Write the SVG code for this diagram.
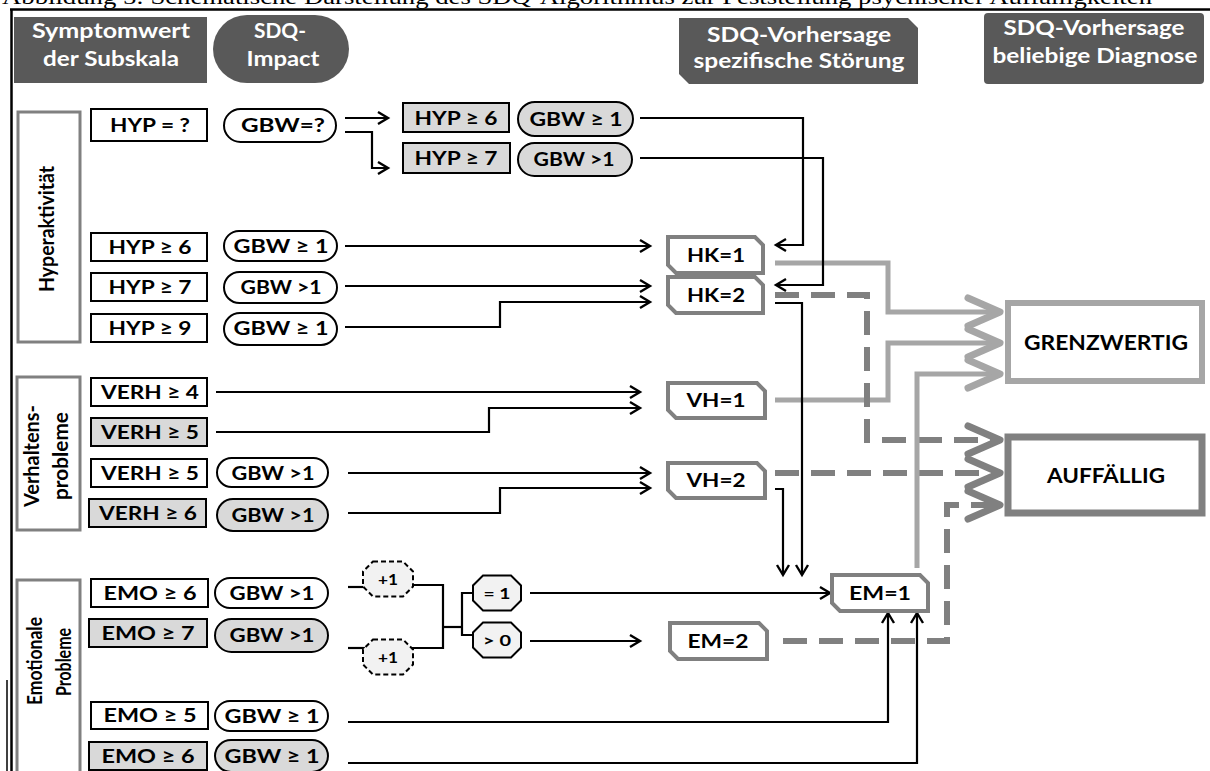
<svg xmlns="http://www.w3.org/2000/svg" width="1210" height="771" viewBox="0 0 1210 771">
<style>
text{font-family:Lato,"Liberation Sans",sans-serif;font-weight:bold;text-anchor:middle;fill:#000}
.h{fill:#fff;font-size:20px}
.n{font-size:18px}
.v{font-size:21px}
.w{fill:#fff;stroke:#000;stroke-width:2}
.g{fill:#d9d9d9;stroke:#000;stroke-width:2}
.cat{fill:#fff;stroke:#808080;stroke-width:3}
.st{fill:#fff;stroke:#808080;stroke-width:4}
.oct{fill:#f2f2f2;stroke:#000;stroke-width:2}
.octd{fill:#f2f2f2;stroke:#000;stroke-width:2;stroke-dasharray:5 3}
.k{fill:none;stroke:#000;stroke-width:2.2}
.ka{fill:none;stroke:#000;stroke-width:2.2;marker-end:url(#ab)}
.lg{fill:none;stroke:#a6a6a6;stroke-width:5;marker-end:url(#al)}
.dg{fill:none;stroke:#808080;stroke-width:6;stroke-dasharray:24 12;marker-end:url(#ad)}
</style>
<defs>
<marker id="ab" markerUnits="userSpaceOnUse" viewBox="-12 -8 14 16" refX="0" refY="0" markerWidth="14" markerHeight="16" orient="auto" overflow="visible">
<path d="M-10,-6 L0,0 L-10,6" fill="none" stroke="#000" stroke-width="2.4"/>
</marker>
<marker id="al" markerUnits="userSpaceOnUse" viewBox="-40 -20 44 40" refX="0" refY="0" markerWidth="44" markerHeight="40" orient="auto" overflow="visible">
<path d="M-32,-14 L0,0 L-32,14" fill="none" stroke="#a6a6a6" stroke-width="7" stroke-linecap="round" stroke-linejoin="round"/>
</marker>
<marker id="ad" markerUnits="userSpaceOnUse" viewBox="-40 -20 44 40" refX="0" refY="0" markerWidth="44" markerHeight="40" orient="auto" overflow="visible">
<path d="M-32,-14 L0,0 L-32,14" fill="none" stroke="#808080" stroke-width="7" stroke-linecap="round" stroke-linejoin="round"/>
</marker>
</defs>
<rect width="1210" height="771" fill="#fff"/>
<text x="2" y="4" style="font-family:'Liberation Serif',serif;font-weight:normal;text-anchor:start;font-size:22px" textLength="1150" lengthAdjust="spacingAndGlyphs">Abbildung 5: Schematische Darstellung des SDQ-Algorithmus zur Feststellung psychischer Auffälligkeiten</text>
<g id="frame" fill="none" stroke="#000">
<path d="M10,9.5 H1210" stroke-width="2.5"/>
<path d="M11.5,9 V771" stroke-width="2.5"/>
<path d="M7,680 V771" stroke-width="1.5"/>
</g>
<g id="header-symptom"><rect x="14" y="17" width="193" height="66" fill="#595959"/>
<text class="h" x="111" y="38" textLength="158" lengthAdjust="spacingAndGlyphs">Symptomwert</text>
<text class="h" x="111" y="66" textLength="136" lengthAdjust="spacingAndGlyphs">der Subskala</text></g>
<g id="header-impact"><rect x="213" y="15" width="136" height="68" rx="34" fill="#595959"/>
<text class="h" x="280" y="38" textLength="52" lengthAdjust="spacingAndGlyphs">SDQ-</text>
<text class="h" x="283" y="66" textLength="73" lengthAdjust="spacingAndGlyphs">Impact</text></g>
<g id="header-spez"><path d="M679,18 H908 L918,28 V84 H689 L679,74 Z" fill="#595959"/>
<text class="h" x="799" y="42" textLength="184" lengthAdjust="spacingAndGlyphs">SDQ-Vorhersage</text>
<text class="h" x="799" y="68" textLength="211" lengthAdjust="spacingAndGlyphs">spezifische Störung</text></g>
<g id="header-bel"><rect x="984" y="13" width="220" height="71" rx="4" fill="#595959"/>
<text class="h" x="1094" y="35" textLength="181" lengthAdjust="spacingAndGlyphs">SDQ-Vorhersage</text>
<text class="h" x="1095" y="63" textLength="205" lengthAdjust="spacingAndGlyphs">beliebige Diagnose</text></g>

<g id="cat-hyp"><rect class="cat" x="18" y="112" width="62" height="230"/>
<text class="v" transform="translate(54,229) rotate(-90)" textLength="126" lengthAdjust="spacingAndGlyphs">Hyperaktivität</text></g>
<g id="cat-verh"><rect class="cat" x="17" y="377" width="63" height="153"/>
<text class="v" transform="translate(39,456) rotate(-90)" textLength="102" lengthAdjust="spacingAndGlyphs">Verhaltens-</text>
<text class="v" transform="translate(68,456) rotate(-90)" textLength="88" lengthAdjust="spacingAndGlyphs">probleme</text></g>
<g id="cat-emo"><rect class="cat" x="17" y="580" width="63" height="200"/>
<text class="v" transform="translate(42,661) rotate(-90)" textLength="88" lengthAdjust="spacingAndGlyphs">Emotionale</text>
<text class="v" transform="translate(71,662) rotate(-90)" textLength="68" lengthAdjust="spacingAndGlyphs">Probleme</text></g>

<g id="connectors">
<path class="lg" d="M775,263 H888 V312 H1000"/>
<path class="lg" d="M775,400 H888 V343 H1000"/>
<path class="dg" d="M775,295 H867 V440 H1000"/>
<path class="dg" d="M775,473 H1000"/>
<path class="lg" d="M917,568 V374 H1000"/>
<path class="dg" d="M783,641 H947 V505 H1000"/>
<path class="ka" d="M345,118 H388"/>
<path class="ka" d="M345,132 H372 V168 H388"/>
<path class="ka" d="M640,118 H803 V245 H776"/>
<path class="ka" d="M640,158 H823 V285 H776"/>
<path class="ka" d="M345,246 H650"/>
<path class="ka" d="M345,286 H650"/>
<path class="ka" d="M345,327 H500 V302 H650"/>
<path class="ka" d="M216,392 H640"/>
<path class="ka" d="M216,432 H489 V408 H640"/>
<path class="ka" d="M348,473 H650"/>
<path class="ka" d="M348,513 H500 V488 H650"/>
<path class="ka" d="M775,303 H802 V575"/>
<path class="ka" d="M775,489 H783 V575"/>
<path class="k" d="M348,587 H365"/>
<path class="k" d="M348,648 H365"/>
<path class="k" d="M411,585 H443 V648 H411" stroke-width="2.8"/>
<path class="k" d="M443,627 H462" stroke-width="3"/>
<path class="k" d="M474,593 H462 V635 H474" stroke-width="3"/>
<path class="ka" d="M530,593 H830"/>
<path class="ka" d="M530,641 H640"/>
<path class="ka" d="M348,722 H888 V613"/>
<path class="ka" d="M348,763 H917 V613"/>
</g>

<g id="hyp-q"><rect class="w" x="91" y="109" width="116" height="32"/><text class="n" x="150" y="132" textLength="80" lengthAdjust="spacingAndGlyphs">HYP = ?</text></g>
<g id="gbw-q"><rect class="w" x="224" y="109" width="112" height="33" rx="16.5"/><text class="n" x="283" y="132" textLength="84" lengthAdjust="spacingAndGlyphs">GBW=?</text></g>
<g id="hyp6-g"><rect class="g" x="403" y="103" width="106" height="29"/><text class="n" x="456" y="124.5" textLength="83" lengthAdjust="spacingAndGlyphs">HYP ≥ 6</text></g>
<g id="gbw1-g"><rect class="g" x="518" y="102" width="115" height="34" rx="17"/><text class="n" x="576" y="125.5" textLength="93" lengthAdjust="spacingAndGlyphs">GBW ≥ 1</text></g>
<g id="hyp7-g"><rect class="g" x="403" y="143" width="107" height="30"/><text class="n" x="456" y="165" textLength="83" lengthAdjust="spacingAndGlyphs">HYP ≥ 7</text></g>
<g id="gbwg1-g"><rect class="g" x="518" y="143" width="114" height="33" rx="16.5"/><text class="n" x="574" y="166" textLength="81" lengthAdjust="spacingAndGlyphs">GBW &gt;1</text></g>

<g id="hyp6"><rect class="w" x="91" y="233" width="116" height="28"/><text class="n" x="150" y="253.5" textLength="83" lengthAdjust="spacingAndGlyphs">HYP ≥ 6</text></g>
<g id="hyp6-gbw"><rect class="w" x="224" y="231" width="113" height="30" rx="15"/><text class="n" x="281" y="252.5" textLength="95" lengthAdjust="spacingAndGlyphs">GBW ≥ 1</text></g>
<g id="hyp7"><rect class="w" x="91" y="273" width="116" height="28"/><text class="n" x="150" y="293.5" textLength="83" lengthAdjust="spacingAndGlyphs">HYP ≥ 7</text></g>
<g id="hyp7-gbw"><rect class="w" x="224" y="272" width="113" height="31" rx="15.5"/><text class="n" x="281" y="294" textLength="81" lengthAdjust="spacingAndGlyphs">GBW &gt;1</text></g>
<g id="hyp9"><rect class="w" x="91" y="314" width="116" height="28"/><text class="n" x="150" y="334.5" textLength="83" lengthAdjust="spacingAndGlyphs">HYP ≥ 9</text></g>
<g id="hyp9-gbw"><rect class="w" x="224" y="313" width="113" height="32" rx="16"/><text class="n" x="281" y="335" textLength="95" lengthAdjust="spacingAndGlyphs">GBW ≥ 1</text></g>

<g id="verh4"><rect class="w" x="91" y="378" width="116" height="28"/><text class="n" x="150" y="398.5" textLength="98" lengthAdjust="spacingAndGlyphs">VERH ≥ 4</text></g>
<g id="verh5-g"><rect class="g" x="91" y="418" width="116" height="28"/><text class="n" x="150" y="438.5" textLength="98" lengthAdjust="spacingAndGlyphs">VERH ≥ 5</text></g>
<g id="verh5"><rect class="w" x="91" y="459" width="116" height="28"/><text class="n" x="150" y="479.5" textLength="98" lengthAdjust="spacingAndGlyphs">VERH ≥ 5</text></g>
<g id="verh5-gbw"><rect class="w" x="217" y="458" width="111" height="29" rx="14.5"/><text class="n" x="273" y="479.5" textLength="83" lengthAdjust="spacingAndGlyphs">GBW &gt;1</text></g>
<g id="verh6-g"><rect class="g" x="89" y="499" width="117" height="28"/><text class="n" x="148" y="519.5" textLength="98" lengthAdjust="spacingAndGlyphs">VERH ≥ 6</text></g>
<g id="verh6-gbw"><rect class="g" x="217" y="499" width="111" height="32" rx="16"/><text class="n" x="273" y="521.5" textLength="83" lengthAdjust="spacingAndGlyphs">GBW &gt;1</text></g>

<g id="emo6"><rect class="w" x="91" y="579" width="117" height="28"/><text class="n" x="150" y="599.5" textLength="93" lengthAdjust="spacingAndGlyphs">EMO ≥ 6</text></g>
<g id="emo6-gbw"><rect class="w" x="215" y="578" width="113" height="30" rx="15"/><text class="n" x="272" y="600" textLength="85" lengthAdjust="spacingAndGlyphs">GBW &gt;1</text></g>
<g id="emo7-g"><rect class="g" x="89" y="619" width="118" height="28"/><text class="n" x="148" y="639.5" textLength="93" lengthAdjust="spacingAndGlyphs">EMO ≥ 7</text></g>
<g id="emo7-gbw"><rect class="g" x="215" y="619" width="113" height="33" rx="16.5"/><text class="n" x="272" y="642" textLength="85" lengthAdjust="spacingAndGlyphs">GBW &gt;1</text></g>
<g id="emo5"><rect class="w" x="91" y="702" width="117" height="27"/><text class="n" x="150" y="722" textLength="93" lengthAdjust="spacingAndGlyphs">EMO ≥ 5</text></g>
<g id="emo5-gbw"><rect class="w" x="215" y="701" width="113" height="30" rx="15"/><text class="n" x="272" y="722.5" textLength="95" lengthAdjust="spacingAndGlyphs">GBW ≥ 1</text></g>
<g id="emo6-g"><rect class="g" x="89" y="742" width="118" height="28"/><text class="n" x="148" y="762.5" textLength="93" lengthAdjust="spacingAndGlyphs">EMO ≥ 6</text></g>
<g id="emo6g-gbw"><rect class="g" x="215" y="740" width="113" height="32" rx="16"/><text class="n" x="272" y="762.5" textLength="95" lengthAdjust="spacingAndGlyphs">GBW ≥ 1</text></g>

<g id="plus1-a"><polygon class="octd" points="373,561.5 403,561.5 413,571.5 413,586.5 403,596.5 373,596.5 363,586.5 363,571.5"/><text x="388" y="584.5" style="font-size:15px" textLength="20" lengthAdjust="spacingAndGlyphs">+1</text></g>
<g id="plus1-b"><polygon class="octd" points="373,639.5 403,639.5 413,649.5 413,664.5 403,674.5 373,674.5 363,664.5 363,649.5"/><text x="388" y="662.5" style="font-size:15px" textLength="20" lengthAdjust="spacingAndGlyphs">+1</text></g>
<g id="eq1"><polygon class="oct" points="483,575.5 511,575.5 521,585.5 521,600.5 511,610.5 483,610.5 473,600.5 473,585.5"/><text x="497" y="598.5" style="font-size:15px" textLength="27" lengthAdjust="spacingAndGlyphs">= 1</text></g>
<g id="gt0"><polygon class="oct" points="483,622.5 511,622.5 521,632.5 521,647.5 511,657.5 483,657.5 473,647.5 473,632.5"/><text x="497" y="645.5" style="font-size:15px" textLength="28" lengthAdjust="spacingAndGlyphs">&gt; 0</text></g>

<g id="hk1"><path class="st" d="M668,237 H755 L763,245 V273 H676 L668,265 Z"/><text x="716" y="261.5" style="font-size:18px" textLength="58" lengthAdjust="spacingAndGlyphs">HK=1</text></g>
<g id="hk2"><path class="st" d="M668,277 H755 L763,285 V313 H676 L668,305 Z"/><text x="716" y="301.5" style="font-size:18px" textLength="58" lengthAdjust="spacingAndGlyphs">HK=2</text></g>
<g id="vh1"><path class="st" d="M668,383 H757 L765,391 V418 H676 L668,410 Z"/><text x="716" y="407" style="font-size:18px" textLength="59" lengthAdjust="spacingAndGlyphs">VH=1</text></g>
<g id="vh2"><path class="st" d="M668,463 H757 L765,471 V498 H676 L668,490 Z"/><text x="716" y="487" style="font-size:18px" textLength="59" lengthAdjust="spacingAndGlyphs">VH=2</text></g>
<g id="em1"><path class="st" d="M832,575 H920 L928,583 V611 H840 L832,603 Z"/><text x="880" y="599.5" style="font-size:18px" textLength="62" lengthAdjust="spacingAndGlyphs">EM=1</text></g>
<g id="em2"><path class="st" d="M670,623 H759 L767,631 V659 H678 L670,651 Z"/><text x="718" y="647.5" style="font-size:18px" textLength="61" lengthAdjust="spacingAndGlyphs">EM=2</text></g>

<g id="grenzwertig"><rect x="1008" y="303" width="194" height="78" fill="#fff" stroke="#a6a6a6" stroke-width="6"/><text x="1106" y="349.5" style="font-size:20px" textLength="164" lengthAdjust="spacingAndGlyphs">GRENZWERTIG</text></g>
<g id="auffaellig"><rect x="1008" y="437" width="194" height="76" fill="#fff" stroke="#808080" stroke-width="7"/><text x="1106" y="482.5" style="font-size:20px" textLength="118" lengthAdjust="spacingAndGlyphs">AUFFÄLLIG</text></g>
</svg>
